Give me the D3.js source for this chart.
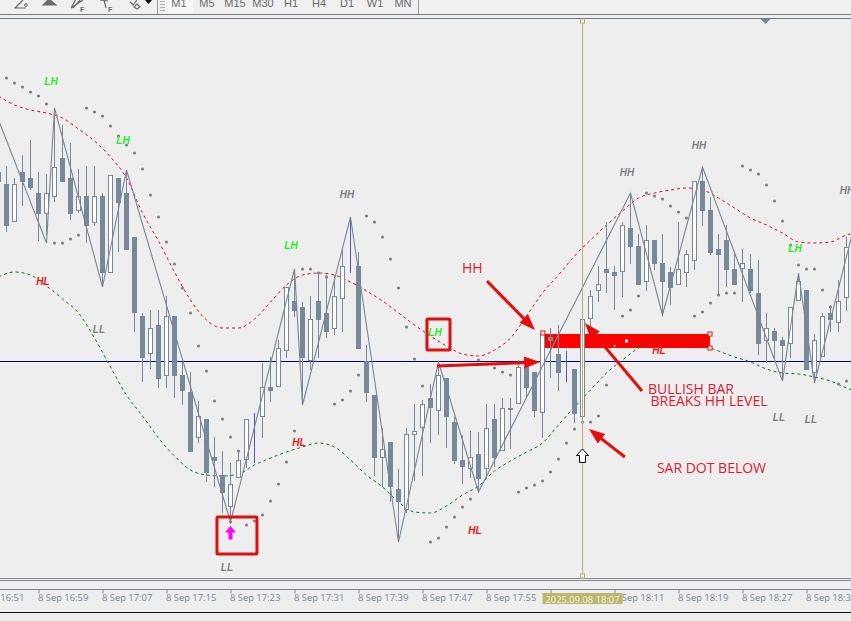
<!DOCTYPE html>
<html>
<head>
<meta charset="utf-8">
<script src="https://cdn.jsdelivr.net/npm/d3@7"></script>
<style>
html,body{margin:0;padding:0;background:#eeeeee;overflow:hidden}
svg{display:block}
</style>
</head>
<body>
<div id="chart"></div>
<script>
// candles, one per minute, first bar is 16:54 (prices in chart points)
var barOpen=[428,416,378,428,422,407,386,403,442,422,389,404,377,404,327,422,407,363,284,246,275,224,284,225,208,162,181,143,125,93,122,140,180,183,213,213,249,299,293,239,299,287,271,301,337,334,239,205,142,158,111,90,165,172,202,189,222,178,140,131,146,131,181,149,190,196,233,228,187,263,246,234,231,183,281,309,331,328,328,372,354,318,360,337,328,315,327,339,419,390,351,360,331,331,331,307,259,269,260,256,299,310,227,243,287,277,302];
var barHigh=[435,434,422,445,460,428,426,492,475,457,431,434,434,407,425,422,430,363,287,290,290,304,284,238,228,199,181,163,149,137,150,181,187,237,243,260,313,331,298,304,328,325,325,350,383,348,255,205,172,158,131,172,196,200,216,238,222,183,165,169,168,196,196,202,202,240,233,228,268,272,275,249,231,281,310,334,378,334,378,407,366,375,360,366,333,378,350,419,433,403,366,375,347,351,346,340,287,272,263,293,327,310,266,287,295,320,363];
var barLow=[410,368,378,394,410,359,365,398,418,380,387,357,374,313,327,348,350,268,218,231,212,212,202,195,148,157,118,113,87,78,122,132,137,162,198,213,242,283,195,230,242,262,265,268,327,251,198,124,113,98,58,87,119,124,157,165,152,136,116,122,108,122,133,149,151,196,203,183,162,222,209,218,177,183,273,298,307,290,303,336,315,309,330,285,295,315,313,330,374,345,304,313,315,298,307,245,237,238,219,242,299,230,217,243,268,268,289];
var barClose=[418,374,416,418,412,386,407,433,418,386,404,374,404,327,425,397,350,287,242,272,221,284,224,209,148,184,127,139,107,116,140,181,180,213,209,252,313,289,242,281,280,268,304,334,337,251,207,142,151,113,98,166,169,196,192,225,183,139,133,143,121,172,142,192,192,233,212,189,267,259,227,234,186,281,304,316,327,324,375,353,315,360,336,318,312,331,346,419,389,347,345,330,315,337,309,256,272,259,254,293,319,230,260,284,280,299,353];

// channel sampled every second bar
var channelBars=d3.range(0,110,2);
var channelUpper=[504,495,490,487,482,471,459,443,422,387,359,328,300,280,272,272,281,298,315,325,327,325,318,309,299,287,275,264,254,246,244,250,262,284,307,325,344,360,375,389,402,407,410,412,410,402,392,382,375,367,358,357,358,365,368];
var channelLower=[323,328,325,314,301,287,262,233,205,184,162,144,130,125,124,126,135,142,148,153,157,153,140,125,113,98,88,87,94,105,114,129,139,148,157,175,193,210,227,240,252,261,262,260,255,249,243,238,231,227,226,223,219,212,206];

// parabolic SAR dots
var sarBars=[1,2,3,4,5,6,7,8,9,10,11,12,13,14,15,16,17,18,19,20,21,22,23,24,25,26,27,28,29,29,30,31,32,33,34,35,36,37,38,39,40,41,42,43,44,45,46,47,48,49,50,51,52,53,54,55,56,57,58,59,60,61,62,63,64,65,66,67,68,69,70,71,72,73,74,75,76,77,78,79,80,81,82,83,84,85,86,87,88,89,90,91,92,93,94,95,96,97,98,99,100,101,102,103,104,105,106];
var sarValues=[522,517,513,508,504,496,357,357,361,365,492,488,484,474,464,455,447,431,405,383,358,336,312,287,254,229,199,181,163,78,149,75,79,85,99,116,138,169,331,331,327,323,196,200,209,225,384,378,363,341,312,273,241,214,58,62,73,83,93,101,240,236,232,228,225,108,112,115,119,128,141,157,171,178,178,184,215,254,284,290,304,407,404,401,394,388,382,284,288,297,305,307,307,434,430,426,415,399,379,355,335,331,331,310,293,216,219];

// zigzag pivots
var zigzagBars=[0,6,7,13,16,29,37,38,44,50,55,60,79,83,88,98,100,102,107];
var zigzagValues=[480,357,492,313,430,78,331,195,383,58,238,108,407,285,433,219,327,217,375];

// swing labels
var swingTexts=["LH","LH","LH","HL","LL","LL","HL","HH","LH","HL","HL","HH","HH","HH","LH","LL","LL"];
var swingBars=[6.56,15.56,36.56,5.56,12.56,28.56,37.56,43.56,54.56,59.56,82.56,78.56,87.56,106.06,99.56,97.56,101.56];
var swingValues=[519,460,355,319,271,33,158,406,268,70,250,428,455,410,352,183,181];
var swingColors={LH:"#22ee22",HL:"#e81818",LL:"#808080",HH:"#808080"};

// drawn objects
var levelValue=238.5;
var bandBars=[68.31,88.94], bandValues=[266,252];
var boxBars=[[27.31,32.31],[53.56,56.44]], boxValues=[[83,46],[281,250]];
var arrowFromBars=[61.06,54.8,80.44,78.3], arrowFromValues=[319,234,209,143];
var arrowToBars=[67.06,67.7,73.3,73.8], arrowToValues=[270,238,277,171];
var noteTexts=["HH","BULLISH BAR","BREAKS HH LEVEL","SAR DOT BELOW"];
var noteBars=[57.94,81.19,81.5,82.3], noteValues=[332,211,199,132];
var crossBar=73, signalBar=29;

// time axis
var tickBars=[-3,5,13,21,29,37,45,53,61,69,77,85,93,101];
var tickLabels=["8 Sep 16:51","8 Sep 16:59","8 Sep 17:07","8 Sep 17:15","8 Sep 17:23","8 Sep 17:31","8 Sep 17:39","8 Sep 17:47","8 Sep 17:55","8 Sep 18:03","8 Sep 18:11","8 Sep 18:19","8 Sep 18:27","8 Sep 18:35"];
var crossLabel="2025.09.08 18:07";
var periods=["M1","M5","M15","M30","H1","H4","D1","W1","MN"];

var width=851, height=621;
var slate="#778899", annotRed="#e80c0c";

var x=d3.scaleLinear().domain([0,100]).range([-1.5,798.5]);
var y=d3.scaleLinear().domain([0,600]).range([600,0]);

var svg=d3.select("#chart").append("svg")
.attr("width",width)
.attr("height",height)
.style("background","#eeeeee");

// toolbar
var bar=svg.append("g");
bar.append("rect").attr("width",width).attr("height",15).attr("fill","#f0f0f0");
bar.append("rect").attr("x",168).attr("y",0).attr("width",25).attr("height",13).attr("fill","#f7f7f7");
[157.5,418.5].forEach(function(d){
  bar.append("line").attr("x1",d).attr("x2",d).attr("y1",0).attr("y2",14).attr("stroke","#9a9a9a");
});
d3.range(0,4).forEach(function(i){
  bar.append("line").attr("x1",160).attr("x2",165).attr("y1",1.5+i*3).attr("y2",1.5+i*3).attr("stroke","#b0b0b0");
});
var periodX=d3.scalePoint().domain(periods).range([179,403]);
bar.selectAll("text").data(periods).enter().append("text")
.attr("x",function(d){return periodX(d)})
.attr("y",7)
.attr("text-anchor","middle")
.attr("font-family","'Liberation Sans'")
.attr("font-size",11)
.attr("fill","#6a6a6a")
.text(function(d){return d});
var icons=[
 {d:"M14,8 L26,8 M15,8 L23,0",f:"none"},
 {d:"M43,5 L49,-1 L56,5 Z",f:"#6a6a6a"},
 {d:"M71,8 L83,0 M73,8 L81,-1 M71,8 L76,-1",f:"none"},
 {d:"M100,0 L108,1 M106,8 L104,0 L112,-1",f:"none"},
 {d:"M130,2 L133,5 L137,0 M134,7 L137,4 L140,7 L137,9 Z",f:"none"},
 {d:"M145,0 L152,0 L148.5,4 Z",f:"#111111"}
];
bar.selectAll("path").data(icons).enter().append("path")
.attr("d",function(d){return d.d})
.attr("fill",function(d){return d.f})
.attr("stroke",function(d){return d.f=="#111111"?"none":"#6a6a6a"})
.attr("stroke-width",1.2);
[80,108].forEach(function(d){
  bar.append("text").attr("x",d).attr("y",12).attr("font-family","'Liberation Sans'").attr("font-size",7).attr("font-weight","bold").attr("fill","#6a6a6a").text("F");
});
bar.append("circle").attr("cx",26).attr("cy",5).attr("r",1.3).attr("fill","none").attr("stroke","#6a6a6a");

// frame
[[14.5,"#7e7e7e"],[18.5,"#6f7882"],[578.5,"#7d8894"],[580.5,"#7d8894"],[612.5,"#111111"]].forEach(function(d){
  svg.append("line").attr("x1",0).attr("x2",width).attr("y1",d[0]).attr("y2",d[0]).attr("stroke",d[1]);
});
svg.append("path").attr("d","M760.5,19 L770.5,19 L765.5,24 Z").attr("fill",slate);

// level and band stay behind the candles
svg.append("line")
.attr("x1",0).attr("x2",width)
.attr("y1",y(levelValue)).attr("y2",y(levelValue))
.attr("stroke","#000090");

svg.append("rect")
.attr("x",x(bandBars[0]))
.attr("y",y(bandValues[0]))
.attr("width",x(bandBars[1])-x(bandBars[0]))
.attr("height",y(bandValues[1])-y(bandValues[0]))
.attr("fill","#ff0000");

var channel=d3.line()
.x(function(d,i){return x(channelBars[i])})
.y(function(d){return y(d)})
.curve(d3.curveMonotoneX);

svg.append("path").attr("d",channel(channelUpper))
.attr("fill","none").attr("stroke","#d0102a").attr("stroke-dasharray","3,3");
svg.append("path").attr("d",channel(channelLower))
.attr("fill","none").attr("stroke","#167028").attr("stroke-dasharray","3,3");

// candles
var candles=svg.append("g").attr("shape-rendering","crispEdges")
.selectAll("g")
.data(barOpen)
.enter()
.append("g");

function barColor(i){
  return barOpen[i]==barClose[i] ? "#5a50b8" : slate;
}

candles.append("line")
.attr("x1",function(d,i){return x(i)})
.attr("x2",function(d,i){return x(i)})
.attr("y1",function(d,i){return y(barHigh[i])})
.attr("y2",function(d,i){return y(barLow[i])})
.attr("stroke",function(d,i){return barColor(i)});

candles.append("rect")
.attr("x",function(d,i){return x(i)-2})
.attr("y",function(d,i){return y(Math.max(barOpen[i],barClose[i]))+0.5})
.attr("width",4)
.attr("height",function(d,i){return Math.max(0,Math.abs(barOpen[i]-barClose[i])-1)})
.attr("fill",function(d,i){return barClose[i]>barOpen[i] ? "#ffffff" : slate})
.attr("stroke",function(d,i){return barColor(i)});

// zigzag
var zigzag=d3.line()
.x(function(d,i){return x(zigzagBars[i])})
.y(function(d){return y(d)});

svg.append("path").attr("d",zigzag(zigzagValues))
.attr("fill","none").attr("stroke","#7a8594").attr("stroke-width",1.1);

// SAR
svg.append("g").selectAll("circle")
.data(sarValues)
.enter()
.append("circle")
.attr("cx",function(d,i){return x(sarBars[i])})
.attr("cy",function(d){return y(d)})
.attr("r",1.6)
.attr("fill","#808080");

// swing labels
svg.append("g").selectAll("text")
.data(swingTexts)
.enter()
.append("text")
.attr("x",function(d,i){return x(swingBars[i])})
.attr("y",function(d,i){return y(swingValues[i])})
.attr("dy","0.35em")
.attr("text-anchor","middle")
.attr("font-family","'Liberation Sans'")
.attr("font-size",10)
.attr("font-weight","bold")
.attr("font-style","italic")
.attr("fill",function(d){return swingColors[d]})
.text(function(d){return d});

// band handles
[[bandBars[1],bandValues[0]],[bandBars[1],bandValues[1]],[68.05,267]].forEach(function(d){
  svg.append("rect")
  .attr("x",x(d[0])-2).attr("y",y(d[1])-2)
  .attr("width",4).attr("height",4)
  .attr("fill","#ffffff").attr("stroke",annotRed);
});
svg.append("rect")
.attr("x",(x(bandBars[0])+x(bandBars[1]))/2-2.5)
.attr("y",y((bandValues[0]+bandValues[1])/2)-1.5)
.attr("width",3).attr("height",3).attr("fill","#ffffff");

// boxes
svg.append("g").selectAll("rect")
.data(boxBars)
.enter()
.append("rect")
.attr("x",function(d){return x(d[0])})
.attr("y",function(d,i){return y(boxValues[i][0])})
.attr("width",function(d){return x(d[1])-x(d[0])})
.attr("height",function(d,i){return y(boxValues[i][1])-y(boxValues[i][0])})
.attr("rx",1)
.attr("fill","none")
.attr("stroke","#dc1010")
.attr("stroke-width",3);

// red arrows
arrowFromBars.forEach(function(d,i){
  var x0=x(d), y0=y(arrowFromValues[i]), x1=x(arrowToBars[i]), y1=y(arrowToValues[i]);
  var a=Math.atan2(y1-y0,x1-x0), c=Math.cos(a), s=Math.sin(a);
  svg.append("line")
  .attr("x1",x0).attr("y1",y0)
  .attr("x2",x1-c*10).attr("y2",y1-s*10)
  .attr("stroke",annotRed).attr("stroke-width",3);
  svg.append("path")
  .attr("d","M"+x1+","+y1
    +"L"+(x1-c*16-s*6)+","+(y1-s*16+c*6)
    +"L"+(x1-c*16+s*6)+","+(y1-s*16-c*6)+"Z")
  .attr("fill",annotRed);
});

svg.append("g").selectAll("text")
.data(noteTexts)
.enter()
.append("text")
.attr("x",function(d,i){return x(noteBars[i])})
.attr("y",function(d,i){return y(noteValues[i])})
.attr("dy","0.36em")
.attr("font-family","'Open Sans'")
.attr("font-size",14)
.attr("fill","#dc1c30")
.text(function(d){return d});

// signal arrow
var sx=x(signalBar), sy=533;
svg.append("path")
.attr("d","M"+sx+","+(sy-7)+"l5.5,6.5l-3.5,0l0,7l-4,0l0,-7l-3.5,0Z")
.attr("fill","#ff00ff");

// crosshair
svg.append("line")
.attr("x1",x(crossBar)).attr("x2",x(crossBar))
.attr("y1",21).attr("y2",576)
.attr("stroke","#b5b168");
[21,576].forEach(function(d){
  svg.append("rect").attr("x",x(crossBar)-2).attr("y",d-2).attr("width",4).attr("height",4)
  .attr("fill","#ffffff").attr("stroke","#b5b168");
});

// cursor
svg.append("path")
.attr("d","M"+x(crossBar)+",449l6,6.5l-3,0l0,7l-6,0l0,-7l-3,0Z")
.attr("fill","#ffffff").attr("stroke","#000000");

// time axis
var axis=d3.axisBottom(x)
.tickValues(tickBars)
.tickSize(4)
.tickSizeOuter(0)
.tickFormat(function(d,i){return tickLabels[i]});

var axisG=svg.append("g").attr("transform","translate(0,589.5)").call(axis);
axisG.select(".domain").attr("stroke",slate).attr("d","M0,0H"+width);
axisG.selectAll("line").attr("stroke",slate);
axisG.selectAll("text")
.attr("text-anchor","start")
.attr("x",-1)
.attr("y",5)
.attr("font-family","'Open Sans'")
.attr("font-size",9.4)
.attr("fill",slate);

svg.append("rect")
.attr("x",x(crossBar)-40).attr("y",593)
.attr("width",80).attr("height",11)
.attr("fill","#bdb76b");
svg.append("text")
.attr("x",x(crossBar)).attr("y",602.5)
.attr("text-anchor","middle")
.attr("font-family","'Open Sans'")
.attr("font-size",9.4)
.attr("fill","#f4f4e4")
.text(crossLabel);
</script>
</body>
</html>
